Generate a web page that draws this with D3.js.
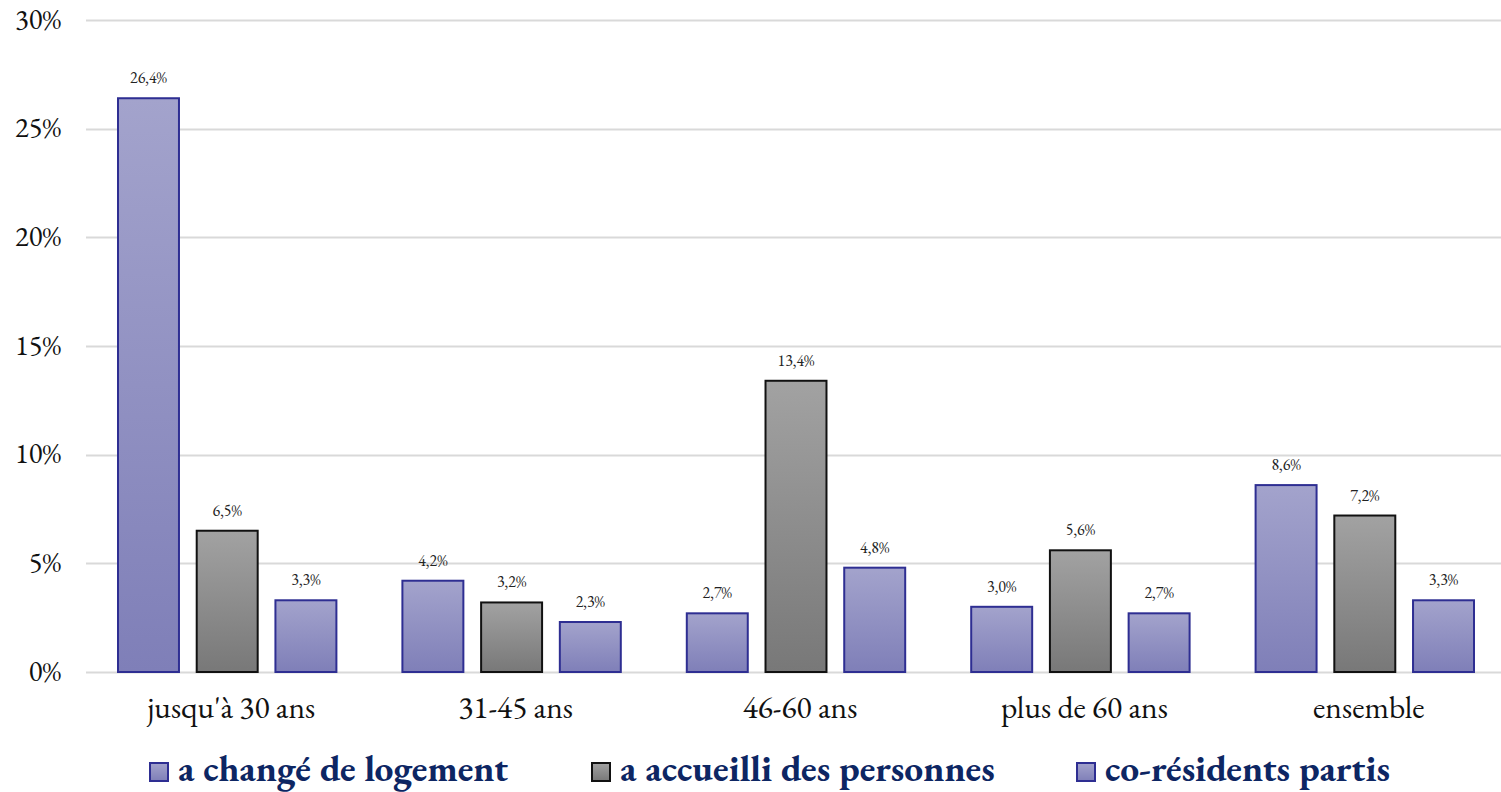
<!DOCTYPE html>
<html><head><meta charset="utf-8">
<script src="https://cdn.jsdelivr.net/npm/d3@7"></script>
<style>body{margin:0;background:#fff}svg{display:block}
svg text{font-family:"EB Garamond","Liberation Serif",serif;font-variant-numeric:lining-nums}</style>
</head><body>
<svg id="c" width="1501" height="792"></svg>
<script>
const categories = ["jusqu'à 30 ans", "31-45 ans", "46-60 ans", "plus de 60 ans", "ensemble"];
const seriesNames = ["a changé de logement", "a accueilli des personnes", "co-résidents partis"];
const changeLogement = [26.4, 4.2, 2.7, 3.0, 8.6];
const accueilli = [6.5, 3.2, 13.4, 5.6, 7.2];
const partis = [3.3, 2.3, 4.8, 2.7, 3.3];
const yTicks = [0, 5, 10, 15, 20, 25, 30];

const seriesValues = [changeLogement, accueilli, partis];
const svg = d3.select("#c");

// font size that makes a sample string reach a target width
function fitSize(sample, target, bold) {
  const t = svg.append("text").style("font-size", "100px").style("font-weight", bold ? "bold" : "normal").text(sample);
  const w = t.node().getComputedTextLength();
  t.remove();
  return 100 * target / w;
}
const fsY = fitSize("30%", 46);
const fsX = fitSize("jusqu'à 30 ans", 168);
const fsV = fitSize("26,4%", 37);
const fsL = fitSize("a changé de logement", 330, true);

const defs = svg.append("defs");
const gBlue = defs.append("linearGradient").attr("id", "gBlue").attr("x1", 0).attr("y1", 0).attr("x2", 0).attr("y2", 1);
gBlue.append("stop").attr("offset", "0%").attr("stop-color", "#a3a3cc");
gBlue.append("stop").attr("offset", "100%").attr("stop-color", "#7f7fb8");
const gGray = defs.append("linearGradient").attr("id", "gGray").attr("x1", 0).attr("y1", 0).attr("x2", 0).attr("y2", 1);
gGray.append("stop").attr("offset", "0%").attr("stop-color", "#a2a2a2");
gGray.append("stop").attr("offset", "100%").attr("stop-color", "#787878");

const fills = ["url(#gBlue)", "url(#gGray)", "url(#gBlue)"];
const strokes = ["#2e2e92", "#111111", "#2e2e92"];

const y = d3.scaleLinear().domain([0, 30]).range([672, 20]);
const x0 = d3.scaleBand().domain(categories).range([85, 1507]).paddingInner(0).paddingOuter(0);
const x1 = d3.scaleBand().domain([0, 1, 2]).range([32, x0.bandwidth() - 32]).paddingInner(0.2).paddingOuter(0);

svg.append("g").selectAll("line").data(yTicks).join("line")
  .attr("x1", 86).attr("x2", 1501)
  .attr("y1", d => Math.round(y(d)) + 0.5).attr("y2", d => Math.round(y(d)) + 0.5)
  .attr("stroke", "#d9d9d9").attr("stroke-width", 2);

const yAxis = d3.axisLeft(y).tickValues(yTicks).tickFormat(d => d + "%").tickSize(0).tickPadding(0);
const ya = svg.append("g").attr("transform", "translate(61,0)").call(yAxis);
ya.select(".domain").remove();
ya.selectAll("text").style("font-size", fsY + "px").attr("fill", "#111").attr("dy", 8);

const xAxis = d3.axisBottom(x0).tickSize(0).tickPadding(0);
const xa = svg.append("g").attr("transform", "translate(4,718)").call(xAxis);
xa.select(".domain").remove();
xa.selectAll("text").style("font-size", fsX + "px").attr("fill", "#111").attr("dy", 0);

const groups = svg.append("g").selectAll("g").data(categories).join("g")
  .attr("transform", d => `translate(${x0(d)},0)`);
groups.selectAll("rect").data((d, i) => seriesValues.map((s, k) => ({k, v: s[i]}))).join("rect")
  .attr("x", d => x1(d.k) + 1)
  .attr("width", x1.bandwidth() - 2)
  .attr("y", d => y(d.v))
  .attr("height", d => y(0) - y(d.v))
  .attr("fill", d => fills[d.k])
  .attr("stroke", d => strokes[d.k])
  .attr("stroke-width", 2);
groups.selectAll("text").data((d, i) => seriesValues.map((s, k) => ({k, v: s[i]}))).join("text")
  .attr("x", d => x1(d.k) + x1.bandwidth() / 2)
  .attr("y", d => y(d.v) - 15)
  .attr("text-anchor", "middle")
  .style("font-size", fsV + "px").attr("fill", "#222")
  .text(d => d.v.toFixed(1).replace(".", ",") + "%");

const legendX = [149, 591, 1076];
const lg = svg.append("g").selectAll("g").data(seriesNames).join("g")
  .attr("transform", (d, i) => `translate(${legendX[i]},762)`);
lg.append("rect").attr("x", 1).attr("y", 1).attr("width", 18).attr("height", 18)
  .attr("fill", (d, i) => fills[i]).attr("stroke", (d, i) => strokes[i]).attr("stroke-width", 2);
lg.append("text").attr("x", 29).attr("y", 19)
  .style("font-size", fsL + "px").style("font-weight", "bold").attr("fill", "#0d2663")
  .text(d => d);
</script>
</body></html>
